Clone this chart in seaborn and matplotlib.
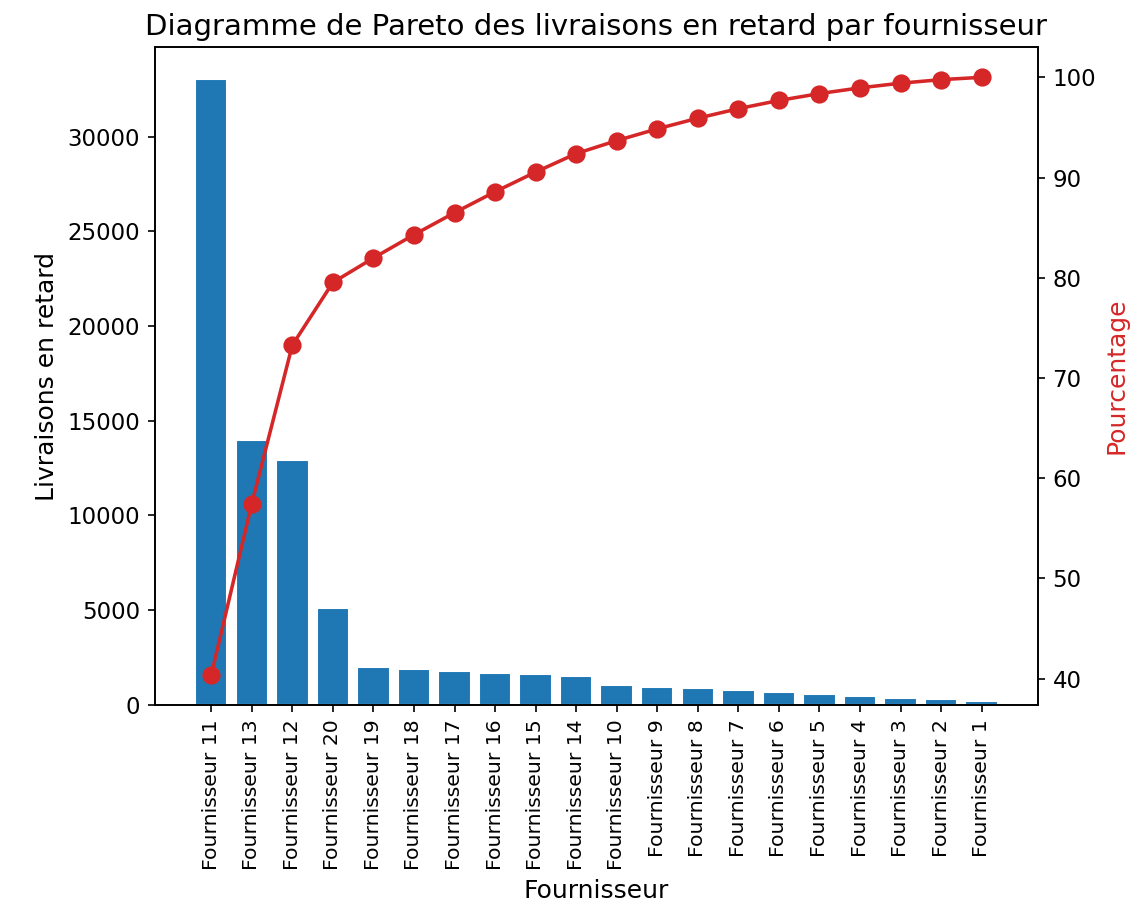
import pandas as pd
import numpy as np
import matplotlib
matplotlib.use("Agg")
import matplotlib.pyplot as plt
import seaborn as sns

# Data (already sorted descending)
fournisseurs = ['Fournisseur 11', 'Fournisseur 13', 'Fournisseur 12', 'Fournisseur 20',
                'Fournisseur 19', 'Fournisseur 18', 'Fournisseur 17', 'Fournisseur 16',
                'Fournisseur 15', 'Fournisseur 14', 'Fournisseur 10', 'Fournisseur 9',
                'Fournisseur 8', 'Fournisseur 7', 'Fournisseur 6', 'Fournisseur 5',
                'Fournisseur 4', 'Fournisseur 3', 'Fournisseur 2', 'Fournisseur 1']
retards = [33050, 14000, 12950, 5120, 2000, 1900, 1800, 1710, 1610, 1510,
           1060, 960, 870, 780, 670, 560, 470, 380, 290, 190]

df = pd.DataFrame({'fournisseur': fournisseurs, 'retards': retards})
df['pos'] = np.arange(len(df))
df['pourcentage'] = df['retards'].cumsum() / df['retards'].sum() * 100

sns.set_style('ticks')
plt.rcParams['axes.edgecolor'] = 'black'
plt.rcParams['xtick.color'] = 'black'
plt.rcParams['ytick.color'] = 'black'
plt.rcParams['text.color'] = 'black'
plt.rcParams['axes.labelcolor'] = 'black'

fig = plt.figure(figsize=(1147 / 150, 912 / 150), dpi=150)
ax = fig.add_axes([0.135, 0.227, 0.770, 0.721])

sns.barplot(data=df, x='fournisseur', y='retards', color='#1f77b4',
            saturation=1, width=0.8, ax=ax, order=fournisseurs)
n = len(df)
pad = 0.05 * (n - 1 + 0.8)
ax.set_xlim(-0.4 - pad, n - 1 + 0.4 + pad)
ax.set_ylim(0, max(retards) * 1.05)
ax.set_xlabel('Fournisseur', fontsize=12)
ax.set_ylabel('Livraisons en retard', fontsize=12)
ax.tick_params(axis='x', labelsize=9.8, rotation=90)
ax.tick_params(axis='y', labelsize=11)

ax2 = ax.twinx()
sns.lineplot(data=df, x='pos', y='pourcentage', color='#d62728', marker='o',
             markersize=8, markeredgecolor='#d62728', linewidth=1.7, ax=ax2)
ax2.set_xlim(ax.get_xlim())
ax2.set_ylabel('Pourcentage', color='#d62728', fontsize=12)
ax2.tick_params(axis='y', labelsize=11)
ax2.set_xlabel('')

for a in (ax, ax2):
    for s in a.spines.values():
        s.set_visible(True)
        s.set_color('black')

ax.set_title('Diagramme de Pareto des livraisons en retard par fournisseur', fontsize=14)

fig.savefig('out.png', dpi=150)
